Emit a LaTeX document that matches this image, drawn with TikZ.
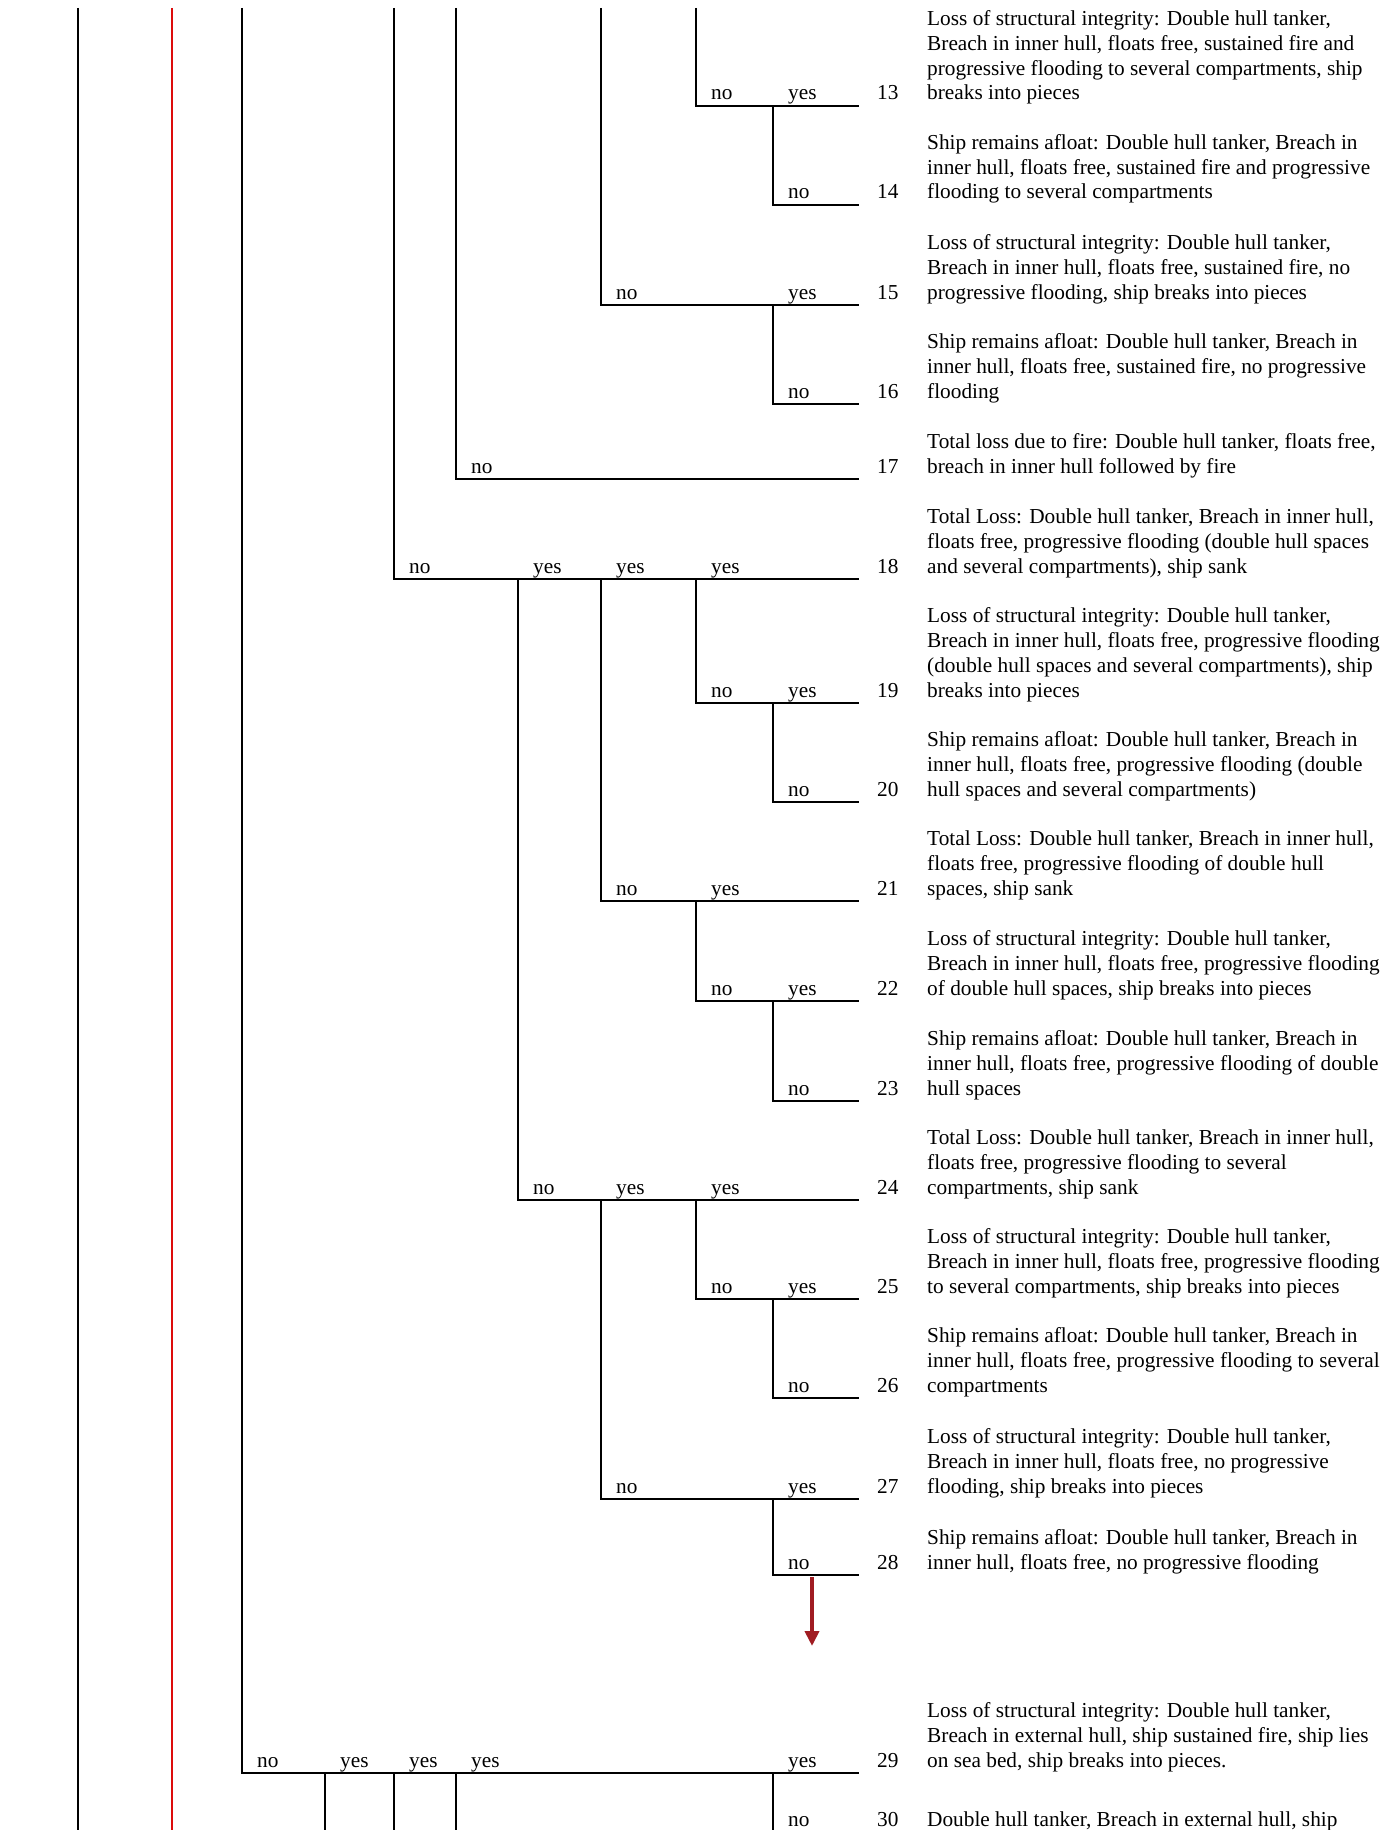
\documentclass[tikz,border=0pt]{standalone}
\usepackage{fontspec}
\setmainfont{Liberation Serif}
\usetikzlibrary{arrows.meta}
\definecolor{redline}{RGB}{220,12,12}
\definecolor{arrowred}{RGB}{160,28,34}
\newcommand{\txtb}[1]{\begin{tabular}[b]{@{}l@{}}#1\end{tabular}}
\begin{document}
\begin{tikzpicture}[x=1pt,y=-1pt,
  tree/.style={line width=1.8pt},
  lbl/.style={anchor=base west, inner sep=0pt, font=\fontsize{21.3}{24.9}\selectfont},
  up/.style={yshift=6pt},
  yn/.style={lbl, xshift=15pt, yshift=6pt}]
\useasboundingbox (0,0) rectangle (1396,1830);
\clip (0,0) rectangle (1396,1830);
% columns
\coordinate (xA) at (78,0);
\coordinate (xR) at (172,0);
\coordinate (x3) at (242,0);
\coordinate (x4) at (325,0);
\coordinate (x5) at (394,0);
\coordinate (x6) at (456,0);
\coordinate (x7) at (518,0);
\coordinate (x8) at (601,0);
\coordinate (x9) at (696,0);
\coordinate (x10) at (773,0);
\coordinate (xN) at (877,0);
\coordinate (xT) at (927,0);
\coordinate (top) at (0,8);
\coordinate (bot) at (0,1830);
\coordinate (b30) at (0,1826);
% row line ends
\coordinate (e13) at (859,106);
\coordinate (e14) at (859,205);
\coordinate (e15) at (859,305);
\coordinate (e16) at (859,404);
\coordinate (e17) at (859,479);
\coordinate (e18) at (859,579);
\coordinate (e19) at (859,703);
\coordinate (e20) at (859,802);
\coordinate (e21) at (859,901);
\coordinate (e22) at (859,1001);
\coordinate (e23) at (859,1101);
\coordinate (e24) at (859,1200);
\coordinate (e25) at (859,1299);
\coordinate (e26) at (859,1398);
\coordinate (e27) at (859,1499);
\coordinate (e28) at (859,1575);
\coordinate (e29) at (859,1773);
% tree lines
\draw[tree] (xA |- top) -- (xA |- bot);
\draw[tree, draw=redline] (xR |- top) -- (xR |- bot);
\draw[tree] (x3 |- top) |- (e29);
\draw[tree] (x4 |- e29) -- (x4 |- bot);
\draw[tree] (x5 |- e29) -- (x5 |- bot);
\draw[tree] (x6 |- e29) -- (x6 |- bot);
\draw[tree] (x10 |- e29) -- (x10 |- bot);
\draw[tree] (x5 |- top) |- (e18);
\draw[tree] (x6 |- top) |- (e17);
\draw[tree] (x8 |- top) |- (e15);
\draw[tree] (x9 |- top) |- (e13);
\draw[tree] (x10 |- e13) |- (e14);
\draw[tree] (x10 |- e15) |- (e16);
\draw[tree] (x7 |- e18) |- (e24);
\draw[tree] (x8 |- e18) |- (e21);
\draw[tree] (x9 |- e18) |- (e19);
\draw[tree] (x10 |- e19) |- (e20);
\draw[tree] (x9 |- e21) |- (e22);
\draw[tree] (x10 |- e22) |- (e23);
\draw[tree] (x9 |- e24) |- (e25);
\draw[tree] (x10 |- e25) |- (e26);
\draw[tree] (x8 |- e24) |- (e27);
\draw[tree] (x10 |- e27) |- (e28);
% arrow
\coordinate (arS) at (812,1577);
\coordinate (arE) at (812,1646);
\draw[line width=4pt, draw=arrowred, -{Triangle[width=14pt,length=15pt]}] (arS) -- (arE);
% yes/no labels
\node[yn] (l13a) at (x9 |- e13) {no};
\node[yn] (l13b) at (x10 |- e13) {yes};
\node[yn] (l14a) at (x10 |- e14) {no};
\node[yn] (l15a) at (x8 |- e15) {no};
\node[yn] (l15b) at (x10 |- e15) {yes};
\node[yn] (l16a) at (x10 |- e16) {no};
\node[yn] (l17a) at (x6 |- e17) {no};
\node[yn] (l18a) at (x5 |- e18) {no};
\node[yn] (l18b) at (x7 |- e18) {yes};
\node[yn] (l18c) at (x8 |- e18) {yes};
\node[yn] (l18d) at (x9 |- e18) {yes};
\node[yn] (l19a) at (x9 |- e19) {no};
\node[yn] (l19b) at (x10 |- e19) {yes};
\node[yn] (l20a) at (x10 |- e20) {no};
\node[yn] (l21a) at (x8 |- e21) {no};
\node[yn] (l21b) at (x9 |- e21) {yes};
\node[yn] (l22a) at (x9 |- e22) {no};
\node[yn] (l22b) at (x10 |- e22) {yes};
\node[yn] (l23a) at (x10 |- e23) {no};
\node[yn] (l24a) at (x7 |- e24) {no};
\node[yn] (l24b) at (x8 |- e24) {yes};
\node[yn] (l24c) at (x9 |- e24) {yes};
\node[yn] (l25a) at (x9 |- e25) {no};
\node[yn] (l25b) at (x10 |- e25) {yes};
\node[yn] (l26a) at (x10 |- e26) {no};
\node[yn] (l27a) at (x8 |- e27) {no};
\node[yn] (l27b) at (x10 |- e27) {yes};
\node[yn] (l28a) at (x10 |- e28) {no};
\node[yn] (l29a) at (x3 |- e29) {no};
\node[yn] (l29b) at (x4 |- e29) {yes};
\node[yn] (l29c) at (x5 |- e29) {yes};
\node[yn] (l29d) at (x6 |- e29) {yes};
\node[yn] (l29e) at (x10 |- e29) {yes};
\node[lbl, xshift=15pt] (l30a) at (x10 |- b30) {no};
% numbers
\node[lbl, up] (n13) at (xN |- e13) {13};
\node[lbl, up] (n14) at (xN |- e14) {14};
\node[lbl, up] (n15) at (xN |- e15) {15};
\node[lbl, up] (n16) at (xN |- e16) {16};
\node[lbl, up] (n17) at (xN |- e17) {17};
\node[lbl, up] (n18) at (xN |- e18) {18};
\node[lbl, up] (n19) at (xN |- e19) {19};
\node[lbl, up] (n20) at (xN |- e20) {20};
\node[lbl, up] (n21) at (xN |- e21) {21};
\node[lbl, up] (n22) at (xN |- e22) {22};
\node[lbl, up] (n23) at (xN |- e23) {23};
\node[lbl, up] (n24) at (xN |- e24) {24};
\node[lbl, up] (n25) at (xN |- e25) {25};
\node[lbl, up] (n26) at (xN |- e26) {26};
\node[lbl, up] (n27) at (xN |- e27) {27};
\node[lbl, up] (n28) at (xN |- e28) {28};
\node[lbl, up] (n29) at (xN |- e29) {29};
\node[lbl] (n30) at (xN |- b30) {30};
% descriptions
\node[lbl, up] (t13) at (xT |- e13) {\txtb{Loss of structural integrity: Double hull tanker,\\Breach in inner hull, floats free, sustained fire and\\progressive flooding to several compartments, ship\\breaks into pieces}};
\node[lbl, up] (t14) at (xT |- e14) {\txtb{Ship remains afloat: Double hull tanker, Breach in\\inner hull, floats free, sustained fire and progressive\\flooding to several compartments}};
\node[lbl, up] (t15) at (xT |- e15) {\txtb{Loss of structural integrity: Double hull tanker,\\Breach in inner hull, floats free, sustained fire, no\\progressive flooding, ship breaks into pieces}};
\node[lbl, up] (t16) at (xT |- e16) {\txtb{Ship remains afloat: Double hull tanker, Breach in\\inner hull, floats free, sustained fire, no progressive\\flooding}};
\node[lbl, up] (t17) at (xT |- e17) {\txtb{Total loss due to fire: Double hull tanker, floats free,\\breach in inner hull followed by fire}};
\node[lbl, up] (t18) at (xT |- e18) {\txtb{Total Loss: Double hull tanker, Breach in inner hull,\\floats free, progressive flooding (double hull spaces\\and several compartments), ship sank}};
\node[lbl, up] (t19) at (xT |- e19) {\txtb{Loss of structural integrity: Double hull tanker,\\Breach in inner hull, floats free, progressive flooding\\(double hull spaces and several compartments), ship\\breaks into pieces}};
\node[lbl, up] (t20) at (xT |- e20) {\txtb{Ship remains afloat: Double hull tanker, Breach in\\inner hull, floats free, progressive flooding (double\\hull spaces and several compartments)}};
\node[lbl, up] (t21) at (xT |- e21) {\txtb{Total Loss: Double hull tanker, Breach in inner hull,\\floats free, progressive flooding of double hull\\spaces, ship sank}};
\node[lbl, up] (t22) at (xT |- e22) {\txtb{Loss of structural integrity: Double hull tanker,\\Breach in inner hull, floats free, progressive flooding\\of double hull spaces, ship breaks into pieces}};
\node[lbl, up] (t23) at (xT |- e23) {\txtb{Ship remains afloat: Double hull tanker, Breach in\\inner hull, floats free, progressive flooding of double\\hull spaces}};
\node[lbl, up] (t24) at (xT |- e24) {\txtb{Total Loss: Double hull tanker, Breach in inner hull,\\floats free, progressive flooding to several\\compartments, ship sank}};
\node[lbl, up] (t25) at (xT |- e25) {\txtb{Loss of structural integrity: Double hull tanker,\\Breach in inner hull, floats free, progressive flooding\\to several compartments, ship breaks into pieces}};
\node[lbl, up] (t26) at (xT |- e26) {\txtb{Ship remains afloat: Double hull tanker, Breach in\\inner hull, floats free, progressive flooding to several\\compartments}};
\node[lbl, up] (t27) at (xT |- e27) {\txtb{Loss of structural integrity: Double hull tanker,\\Breach in inner hull, floats free, no progressive\\flooding, ship breaks into pieces}};
\node[lbl, up] (t28) at (xT |- e28) {\txtb{Ship remains afloat: Double hull tanker, Breach in\\inner hull, floats free, no progressive flooding}};
\node[lbl, up] (t29) at (xT |- e29) {\txtb{Loss of structural integrity: Double hull tanker,\\Breach in external hull, ship sustained fire, ship lies\\on sea bed, ship breaks into pieces.}};
\node[lbl] (t30) at (xT |- b30) {Double hull tanker, Breach in external hull, ship};
\end{tikzpicture}
\end{document}
